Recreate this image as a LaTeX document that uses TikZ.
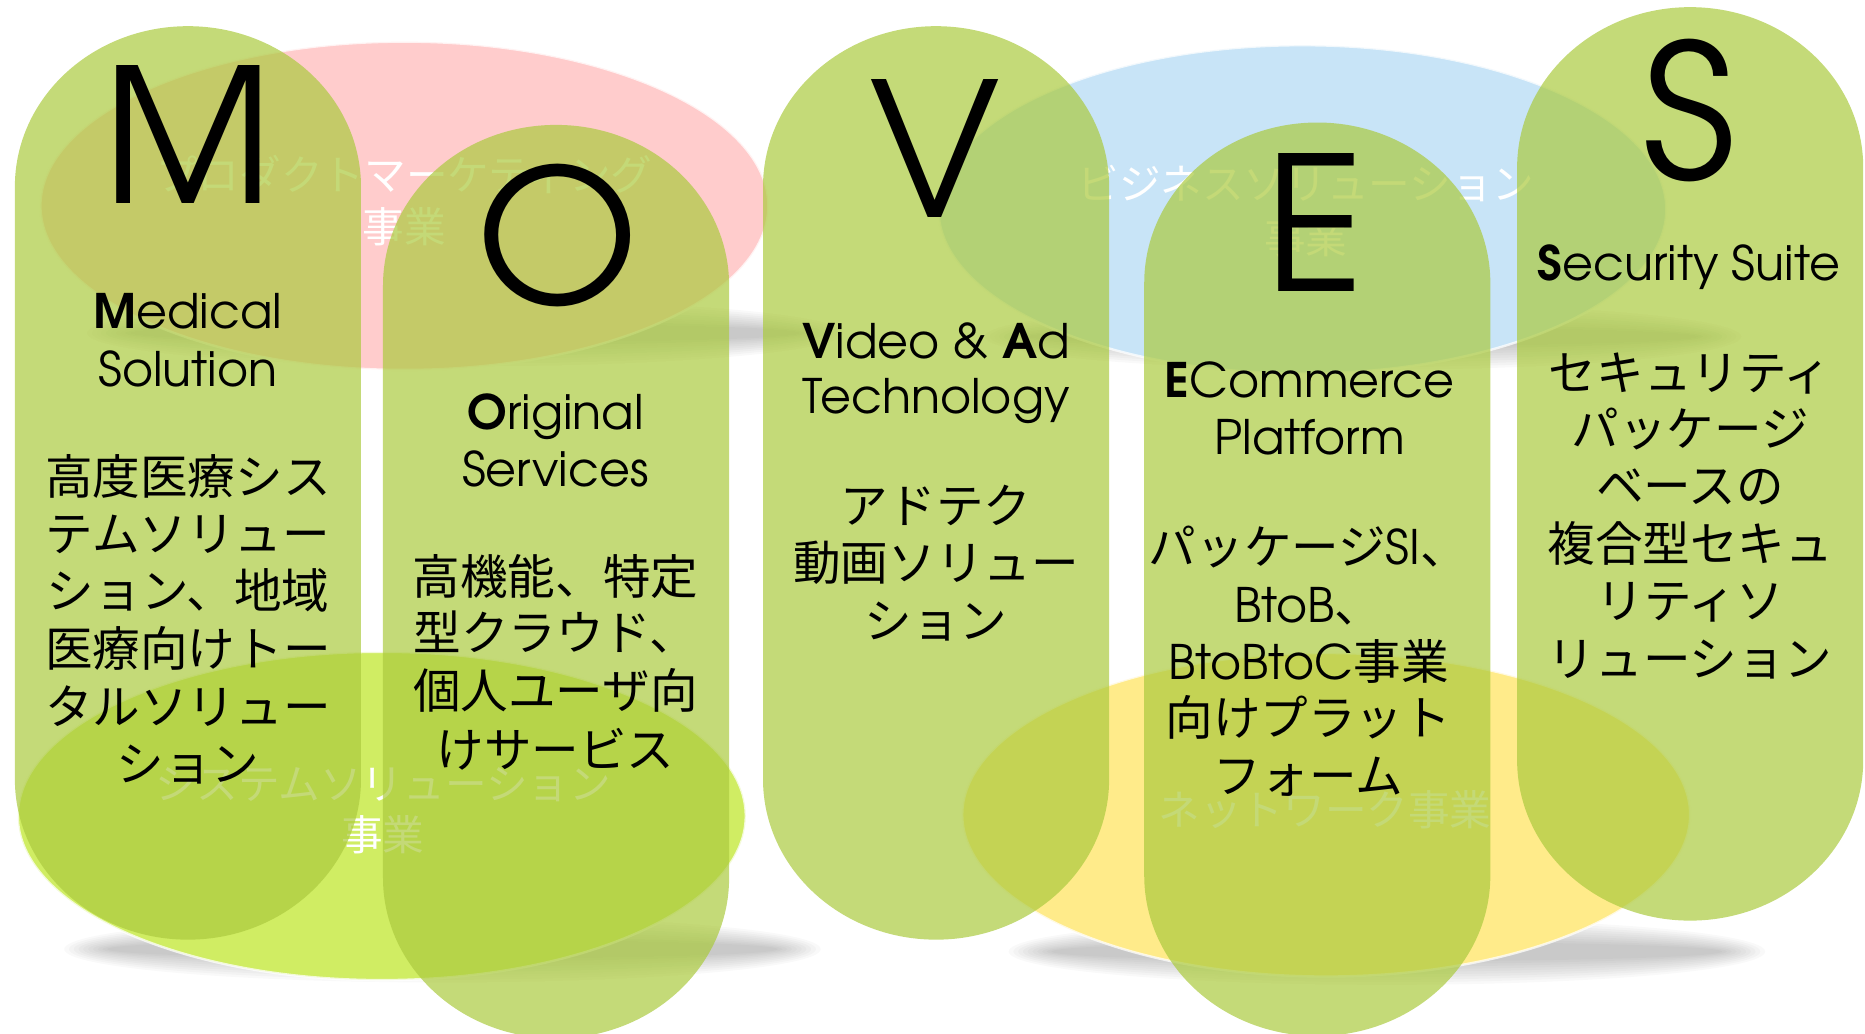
\documentclass[tikz,border=0pt]{standalone}
\usepackage{fontspec}
\newfontfamily\adv[BoldFont=texgyreadventor-bold.otf]{texgyreadventor-regular.otf}
\newfontfamily\jp{Noto Sans CJK JP}
\definecolor{pillgreen}{RGB}{171,202,62}
\definecolor{epink}{RGB}{255,204,204}
\definecolor{eblue}{RGB}{200,228,247}
\definecolor{elime}{RGB}{208,237,99}
\definecolor{eyellow}{RGB}{255,235,138}
\tikzset{
  pill/.style={fill=pillgreen, fill opacity=0.7},
  ell/.style={draw=white, line width=1pt, draw opacity=0.75},
  big/.style={font=\adv\fontsize{78.5}{80}\selectfont, anchor=base, inner sep=0pt},
  lat/.style={font=\adv\fontsize{20}{24}\selectfont, anchor=base, inner sep=0pt},
  jpl/.style={font=\jp\fontsize{20}{24}\selectfont, anchor=base, inner sep=0pt},
  etxt/.style={font=\jp\fontsize{17.5}{22}\selectfont, anchor=base, inner sep=0pt, text=white},
}
\begin{document}
\begin{tikzpicture}[x=0.5pt, y=-0.5pt]
\path[use as bounding box] (0,0) rectangle (1568,869);
\clip (0,0) rectangle (1568,869);

% shadows
\foreach \sx/\sy in {391/280, 1146/283, 372/798, 1166/800} {
  \foreach \k in {0,...,9} {
    \fill[black, opacity=0.025] (\sx,\sy) ellipse[x radius={318-4*\k}, y radius={28-2.2*\k}];
  }
}

% business ellipses
\path[ell, fill=epink]   (340,173)  ellipse[x radius=306, y radius=138];
\path[ell, fill=eblue]   (1095,176) ellipse[x radius=306, y radius=138];
\path[ell, fill=elime]   (321,686)  ellipse[x radius=306, y radius=138];
\path[ell, fill=eyellow] (1115,685) ellipse[x radius=306, y radius=136];

\node[etxt] (pk1) at (340,160) {プロダクトマーケティング};
\node[etxt] (pk2) at (340,204) {事業};
\node[etxt] (bl1) at (1098,168) {ビジネスソリューション};
\node[etxt] (bl2) at (1098,213) {事業};
\node[etxt] (lm1) at (322,672) {システムソリューション};
\node[etxt] (lm2) at (322,715) {事業};
\node[etxt] (yl1) at (1114,694) {ネットワーク事業};

% pills
\foreach \cx/\ty in {158/22, 467.5/105, 787/22, 1107.5/103, 1421/6} {
  \fill[pill] (\cx-145.5,\ty+135)
    arc[start angle=180, end angle=360, x radius=145.5, y radius=135]
    -- (\cx+145.5,\ty+633)
    arc[start angle=0, end angle=180, x radius=145.5, y radius=135]
    -- cycle;
}

% big letters
\node[big] (bM) at (158,171) {M};
\node[big] (bO) at (469,256) {O};
\node[big] (bV) at (786,183) {V};
\node[big] (bE) at (1105,245) {E};
\node[big] (bS) at (1420,151) {S};

% english labels
\node[lat] (m1) at (158,276) {\textbf{M}edical};
\node[lat] (m2) at (158,325) {Solution};
\node[lat] (o1) at (467,361) {\textbf{O}riginal};
\node[lat] (o2) at (467,409) {Services};
\node[lat] (v1) at (787,301) {\textbf{V}ideo \& \textbf{A}d};
\node[lat] (v2) at (787,348) {Technology};
\node[lat] (e1) at (1101,334) {\textbf{E}Commerce};
\node[lat] (e2) at (1101,382) {Platform};
\node[lat] (s1) at (1420,236) {\textbf{S}ecurity Suite};

% japanese descriptions
\node[jpl] (mj1) at (158,416) {高度医療シス};
\node[jpl] (mj2) at (158,464) {テムソリュー};
\node[jpl] (mj3) at (158,512) {ション、地域};
\node[jpl] (mj4) at (158,560) {医療向けトー};
\node[jpl] (mj5) at (158,609) {タルソリュー};
\node[jpl] (mj6) at (158,657) {ション};

\node[jpl] (oj1) at (467,500) {高機能、特定};
\node[jpl] (oj2) at (467,547) {型クラウド、};
\node[jpl] (oj3) at (467,596) {個人ユーザ向};
\node[jpl] (oj4) at (467,645) {けサービス};

\node[jpl] (vj1) at (787,440) {アドテク};
\node[jpl] (vj2) at (787,488) {動画ソリュー};
\node[jpl] (vj3) at (787,537) {ション};

\node[jpl] (ej1) at (1100,475) {パッケージ{\adv SI}、};
\node[jpl] (ej2) at (1100,523) {{\adv BtoB}、};
\node[jpl] (ej3) at (1100,571) {{\adv BtoBtoC}事業};
\node[jpl] (ej4) at (1100,618) {向けプラット};
\node[jpl] (ej5) at (1100,667) {フォーム};

\node[jpl] (sj1) at (1421,328) {セキュリティ};
\node[jpl] (sj2) at (1421,375) {パッケージ};
\node[jpl] (sj3) at (1421,423) {ベースの};
\node[jpl] (sj4) at (1421,472) {複合型セキュ};
\node[jpl] (sj5) at (1421,520) {リティソ};
\node[jpl] (sj6) at (1421,569) {リューション};
\end{tikzpicture}
\end{document}
